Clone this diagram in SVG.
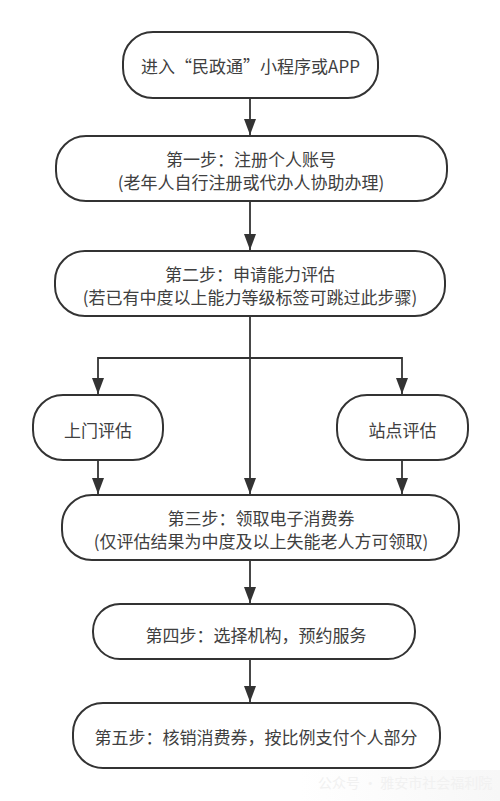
<svg xmlns="http://www.w3.org/2000/svg" width="500" height="801" viewBox="0 0 500 801">
<defs>
<style>
.box{fill:#fff;stroke:#333;stroke-width:2}
.t{font-family:"Noto Sans CJK SC","Noto Sans",sans-serif;font-size:17px;fill:#404040;text-anchor:middle}
.c{fill:none;stroke:#333;stroke-width:1.8}
.wm{font-family:"Noto Sans CJK SC",sans-serif;font-size:14px;fill:#f1f1f1}
</style>
<marker id="ah" viewBox="0 0 16 12" refX="16" refY="6" markerWidth="16" markerHeight="12" markerUnits="userSpaceOnUse" orient="auto">
<path d="M0,0 L16,6 L0,12 Z" fill="#333"/>
</marker>
<linearGradient id="g" x1="0" y1="0" x2="1" y2="0">
<stop offset="0" stop-color="#fff"/>
<stop offset="1" stop-color="#f7f7f7"/>
</linearGradient>
</defs>
<rect width="500" height="801" fill="#fff"/>
<rect x="300" y="770" width="200" height="31" fill="url(#g)"/>
<g id="connectors">
<path class="c" d="M250,98 V135" marker-end="url(#ah)"/>
<path class="c" d="M250,201 V250" marker-end="url(#ah)"/>
<path class="c" d="M250,316 V494" marker-end="url(#ah)"/>
<path class="c" d="M98,358 H402"/>
<path class="c" d="M98,357 V394" marker-end="url(#ah)"/>
<path class="c" d="M402,357 V394" marker-end="url(#ah)"/>
<path class="c" d="M98,460 V494" marker-end="url(#ah)"/>
<path class="c" d="M402,460 V494" marker-end="url(#ah)"/>
<path class="c" d="M250,560 V603" marker-end="url(#ah)"/>
<path class="c" d="M250,659 V702" marker-end="url(#ah)"/>
</g>
<g id="n1">
<rect class="box" x="123" y="32" width="255" height="66" rx="30"/>
<text class="t" x="250.5" y="73">进入“民政通”小程序或APP</text>
</g>
<g id="n2">
<rect class="box" x="56" y="136" width="391" height="65" rx="30"/>
<text class="t" x="251" y="165.5">第一步：注册个人账号</text>
<text class="t" x="251" y="189">(老年人自行注册或代办人协助办理)</text>
</g>
<g id="n3">
<rect class="box" x="55" y="251" width="390" height="65" rx="30"/>
<text class="t" x="250" y="280.5">第二步：申请能力评估</text>
<text class="t" x="250" y="304">(若已有中度以上能力等级标签可跳过此步骤)</text>
</g>
<g id="n4">
<rect class="box" x="33" y="395" width="130" height="65" rx="30"/>
<text class="t" x="98" y="436.5">上门评估</text>
</g>
<g id="n5">
<rect class="box" x="337" y="395" width="131" height="65" rx="30"/>
<text class="t" x="402.5" y="436.5">站点评估</text>
</g>
<g id="n6">
<rect class="box" x="62" y="495" width="397" height="65" rx="30"/>
<text class="t" x="261" y="524.5">第三步：领取电子消费券</text>
<text class="t" x="261" y="548">(仅评估结果为中度及以上失能老人方可领取)</text>
</g>
<g id="n7">
<rect class="box" x="93" y="604" width="322" height="55" rx="27"/>
<text class="t" x="256" y="642">第四步：选择机构，预约服务</text>
</g>
<g id="n8">
<rect class="box" x="73" y="703" width="367" height="65" rx="30"/>
<text class="t" x="256" y="744">第五步：核销消费券，按比例支付个人部分</text>
</g>
<text class="wm" x="318" y="788">公众号 · 雅安市社会福利院</text>
</svg>
